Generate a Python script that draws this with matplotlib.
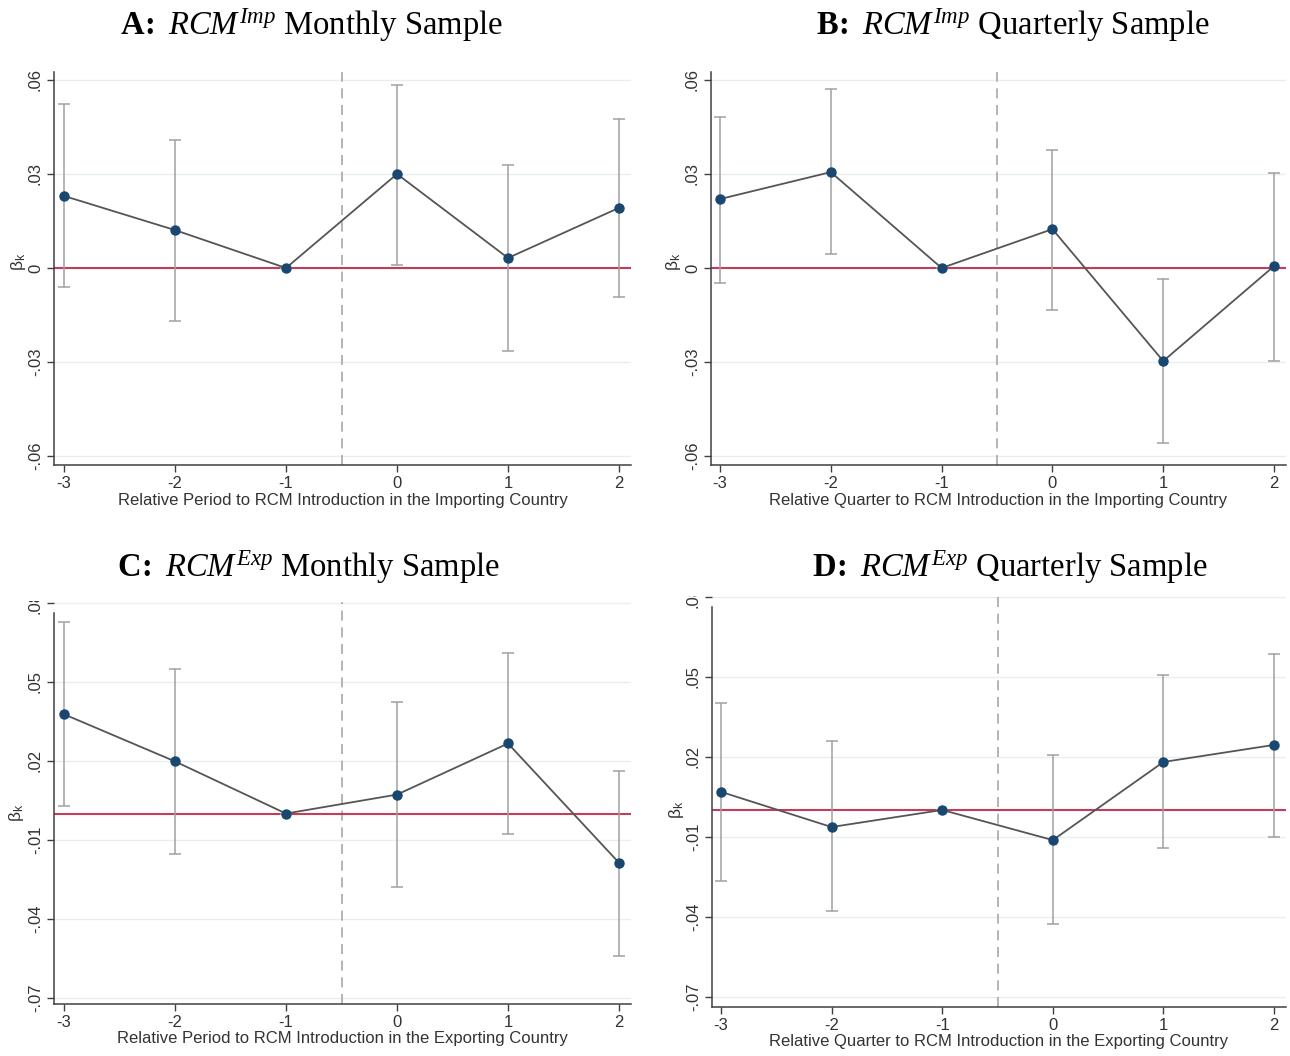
import matplotlib
matplotlib.use("Agg")
import matplotlib.pyplot as plt
from matplotlib.transforms import Bbox, TransformedBbox

# ---------------- data ----------------
periods = [-3, -2, -1, 0, 1, 2]

a_coef = [0.0230, 0.0121, 0.0, 0.0300, 0.0032, 0.0192]
a_hi   = [0.0523, 0.0409, 0.0, 0.0584, 0.0329, 0.0476]
a_lo   = [-0.0061, -0.0169, 0.0, 0.0010, -0.0265, -0.0093]

b_coef = [0.0220, 0.0306, 0.0, 0.0124, -0.0297, 0.0006]
b_hi   = [0.0482, 0.0571, 0.0, 0.0377, -0.0035, 0.0303]
b_lo   = [-0.0048, 0.0045, 0.0, -0.0134, -0.0559, -0.0297]

c_coef = [0.0377, 0.0198, 0.0, 0.0072, 0.0266, -0.0187]
c_hi   = [0.0727, 0.0548, 0.0, 0.0423, 0.0609, 0.0160]
c_lo   = [0.0027, -0.0152, 0.0, -0.0278, -0.0076, -0.0541]

d_coef = [0.0068, -0.0064, 0.0, -0.0113, 0.0180, 0.0244]
d_hi   = [0.0400, 0.0259, 0.0, 0.0206, 0.0506, 0.0585]
d_lo   = [-0.0266, -0.0380, 0.0, -0.0428, -0.0143, -0.0101]

ticks_top = [-0.06, -0.03, 0, 0.03, 0.06]
ticklabels_top = ['-.06', '-.03', '0', '.03', '.06']
ticks_bot = [-0.07, -0.04, -0.01, 0.02, 0.05, 0.08]
ticklabels_bot = ['-.07', '-.04', '-.01', '.02', '.05', '.08']
xticks = [-3, -2, -1, 0, 1, 2]

titles = [r"$\mathbf{A\!:}$ $RCM^{Imp}$ Monthly Sample",
          r"$\mathbf{B\!:}$ $RCM^{Imp}$ Quarterly Sample",
          r"$\mathbf{C\!:}$ $RCM^{Exp}$ Monthly Sample",
          r"$\mathbf{D\!:}$ $RCM^{Exp}$ Quarterly Sample"]
xlabels = ["Relative Period to RCM Introduction in the Importing Country",
           "Relative Quarter to RCM Introduction in the Importing Country",
           "Relative Period to RCM Introduction in the Exporting Country",
           "Relative Quarter to RCM Introduction in the Exporting Country"]

# ---------------- style ----------------
W, H = 1290, 1056
plt.rcParams['font.family'] = ['Liberation Sans', 'DejaVu Sans']
plt.rcParams['mathtext.fontset'] = 'custom'
plt.rcParams['mathtext.rm'] = 'Liberation Serif'
plt.rcParams['mathtext.it'] = 'Liberation Serif:italic'
plt.rcParams['mathtext.bf'] = 'Liberation Serif:bold'

fig = plt.figure(figsize=(W / 100, H / 100), dpi=100)
fig.patch.set_facecolor('white')

NAVY = '#1a476f'
LINE = '#555555'
CI = '#a0a0a0'
RED = '#c43c5c'
AX = '#404040'
GRID = '#e6eff1'


def rect(l, r, t, b):
    return [l / W, 1 - b / H, (r - l) / W, (b - t) / H]


panels = [
    dict(coef=a_coef, hi=a_hi, lo=a_lo, pos=rect(54, 631, 72, 465),
         xlim=(-3.09, 2.108), ylim=(-0.06287, 0.06255), ticks=ticks_top,
         tl=ticklabels_top, bounds=None, tx=311, ty=25, clip=None),
    dict(coef=b_coef, hi=b_hi, lo=b_lo, pos=rect(711, 1286, 72, 465),
         xlim=(-3.081, 2.108), ylim=(-0.06287, 0.06255), ticks=ticks_top,
         tl=ticklabels_top, bounds=None, tx=1013, ty=25, clip=None),
    dict(coef=c_coef, hi=c_hi, lo=c_lo, pos=rect(54, 631, 601.5, 1004),
         xlim=(-3.09, 2.108), ylim=(-0.0723, 0.0805), ticks=ticks_bot,
         tl=ticklabels_bot, bounds=(-0.0723, 0.0762), tx=308, ty=567,
         clip=601),
    dict(coef=d_coef, hi=d_hi, lo=d_lo, pos=rect(712, 1286, 595.3, 1006.5),
         xlim=(-3.081, 2.108), ylim=(-0.0737, 0.0805), ticks=ticks_bot,
         tl=ticklabels_bot, bounds=(-0.0737, 0.0762), tx=1010, ty=567,
         clip=596),
]

for i, p in enumerate(panels):
    ax = fig.add_axes(p['pos'])
    ax.set_xlim(*p['xlim'])
    ax.set_ylim(*p['ylim'])
    ax.set_facecolor('white')
    for s in ['top', 'right']:
        ax.spines[s].set_visible(False)
    for s in ['left', 'bottom']:
        ax.spines[s].set_color(AX)
        ax.spines[s].set_linewidth(1.1)
    if p['bounds'] is not None:
        ax.spines['left'].set_bounds(*p['bounds'])

    ax.set_yticks(p['ticks'])
    ax.set_yticklabels(p['tl'], rotation=90, va='center')
    ax.set_xticks(xticks)
    ax.set_xticklabels([str(v) for v in xticks])
    ax.tick_params(axis='both', direction='out', length=5, width=1,
                   color=AX, labelcolor='#333333', labelsize=12, pad=3)
    ax.tick_params(axis='x', pad=3)

    for t in p['ticks']:
        ax.axhline(t, color=GRID, lw=1, zorder=0)

    ax.axvline(-0.5, color='#a8a8a8', lw=1.2, ls=(0, (6, 4)), zorder=1)
    ax.axhline(0, color=RED, lw=1.5, zorder=2)

    yerr = [[c - l for c, l in zip(p['coef'], p['lo'])],
            [h - c for c, h in zip(p['coef'], p['hi'])]]
    ax.errorbar(periods, p['coef'], yerr=yerr, fmt='none', ecolor=CI,
                elinewidth=1.1, capsize=4, capthick=1.1, zorder=3)
    ax.plot(periods, p['coef'], color=LINE, lw=1.3, zorder=4)
    ax.plot(periods, p['coef'], 'o', color=NAVY, ms=6.5, zorder=5)

    ax.set_xlabel(xlabels[i], fontsize=12, color='#333333', labelpad=1)

    # y title beta_k
    ypix = 262 if i < 2 else (813 if i == 2 else 810)
    xpix = 18 if i == 0 else (674 if i == 1 else (16 if i == 2 else 676))
    fig.text(xpix / W, 1 - ypix / H, r"$\mathregular{\beta_k}$", rotation=90,
             ha='center', va='center', fontsize=12.5, color='#333333',
             family=['Liberation Sans', 'DejaVu Sans'])

    fig.text(p['tx'] / W, 1 - p['ty'] / H, titles[i], ha='center',
             va='center', fontsize=23.5, family='Liberation Serif',
             color='black')

    if p['clip'] is not None:
        cb = TransformedBbox(Bbox([[0, 0], [W / 100, (H - p['clip']) / 100]]),
                             fig.dpi_scale_trans)
        for lab in ax.get_yticklabels():
            lab.set_clip_on(True)
            lab.set_clip_box(cb)

fig.savefig('out.png', dpi=100, facecolor='white')
